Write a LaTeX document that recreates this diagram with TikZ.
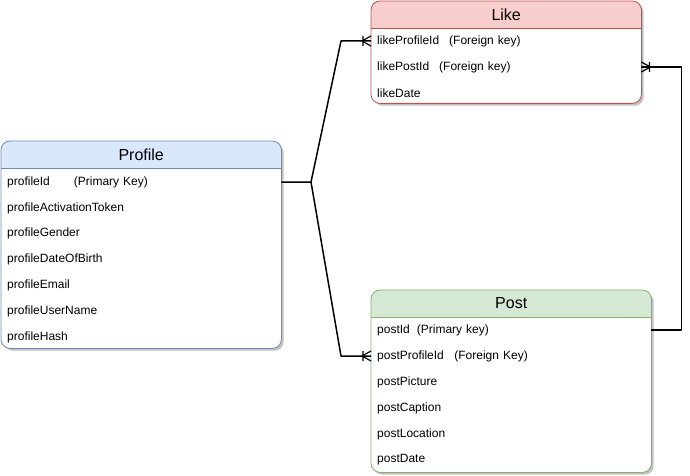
\documentclass[tikz,border=0pt]{standalone}
\usepackage{fontspec}
\setmainfont{Liberation Sans}
\usetikzlibrary{shadows}
\definecolor{bluefill}{HTML}{DAE8FC}
\definecolor{blueline}{HTML}{6C8EBF}
\definecolor{redfill}{HTML}{F8CECC}
\definecolor{redline}{HTML}{B85450}
\definecolor{greenfill}{HTML}{D5E8D4}
\definecolor{greenline}{HTML}{82B366}
% entity box: name, x, y, width, height, colour, title
\newcommand{\erentity}[7]{%
  \node[entity, minimum width=#4pt, minimum height=#5pt] (#1) at (#2,#3) {};
  \begin{scope}
    \clip[rounded corners=9pt] (#1.north west) rectangle (#1.south east);
    \fill[#6fill] (#1.north west) rectangle ([yshift=-27pt]#1.north east);
  \end{scope}
  \draw[#6line, line width=0.8pt] ([yshift=-27pt]#1.north west) -- ([yshift=-27pt]#1.north east);
  \draw[#6line, line width=0.8pt, rounded corners=9pt] (#1.north west) rectangle (#1.south east);
  \node[title] (#1Title) at ([yshift=-13.5pt]#1.north) {#7};
}

\begin{document}
\begin{tikzpicture}
    [x=1pt, y=-1pt,
 entity/.style ={rectangle, anchor=north west, fill=white, inner sep=0pt, rounded corners=9pt,
   drop shadow={shadow xshift=2.5pt, shadow yshift=-2.5pt, opacity=0.4, fill=black!60}},
 title/.style ={font=\fontsize{16}{19}\selectfont},
 field/.style ={anchor=west, inner xsep=6pt, inner ysep=0pt, minimum height=26pt, align=left,
   font=\fontsize{12}{14}\selectfont},
 rel/.style ={draw, line width=1.5pt, line join=round},
 crowfoot/.pic ={\draw[line width=1.2pt] (-9pt,0pt) -- (0pt,5pt) (-9pt,0pt) -- (0pt,-5pt) (-8pt,-5pt) -- (-8pt,5pt);}]
    \useasboundingbox (0,0) rectangle (690,476);

    \erentity{profile}{1}{141}{280}{207}{blue}{Profile}
    \node[field, text width=268pt] (profileIdRow) at (1,182) {profileId\hspace{24pt}(Primary Key)};
    \node[field, text width=268pt] (profileTokenRow) at (1,208) {profileActivationToken};
    \node[field, text width=268pt] (profileGenderRow) at (1,233) {profileGender};
    \node[field, text width=268pt] (profileBirthRow) at (1,259) {profileDateOfBirth};
    \node[field, text width=268pt] (profileEmailRow) at (1,285) {profileEmail};
    \node[field, text width=268pt] (profileUserRow) at (1,311) {profileUserName};
    \node[field, text width=268pt] (profileHashRow) at (1,337) {profileHash};

    \erentity{like}{371}{1}{270}{102}{red}{Like}
    \node[field, text width=258pt] (likeProfileIdRow) at (371,41) {likeProfileId\hspace{10pt}(Foreign key)};
    \node[field, text width=258pt] (likePostIdRow) at (371,67) {likePostId\hspace{10pt}(Foreign key)};
    \node[field, text width=258pt] (likeDateRow) at (371,93) {likeDate};

    \erentity{post}{371}{290}{280}{182}{green}{Post}
    \node[field, text width=268pt] (postIdRow) at (371,330) {postId\hspace{7pt}(Primary key)};
    \node[field, text width=268pt] (postProfileIdRow) at (371,356) {postProfileId\hspace{10.5pt}(Foreign Key)};
    \node[field, text width=268pt] (postPictureRow) at (371,382) {postPicture};
    \node[field, text width=268pt] (postCaptionRow) at (371,408) {postCaption};
    \node[field, text width=268pt] (postLocationRow) at (371,434) {postLocation};
    \node[field, text width=268pt] (postDateRow) at (371,460) {postDate};

    % relations
    \coordinate (fork) at (311,182);
    \draw[rel] (profileIdRow.east) -- (fork) -- ([xshift=-30pt]likeProfileIdRow.west) -- (likeProfileIdRow.west);
    \draw[rel] (fork) -- ([xshift=-30pt]postProfileIdRow.west) -- (postProfileIdRow.west);
    \draw[rel, line width=1.3pt] (postIdRow.east) -- ++(30,0) |- (likePostIdRow.east);
    \pic at (likeProfileIdRow.west) {crowfoot};
    \pic at (postProfileIdRow.west) {crowfoot};
    \pic[rotate=180] at (likePostIdRow.east) {crowfoot};
\end{tikzpicture}
\end{document}
